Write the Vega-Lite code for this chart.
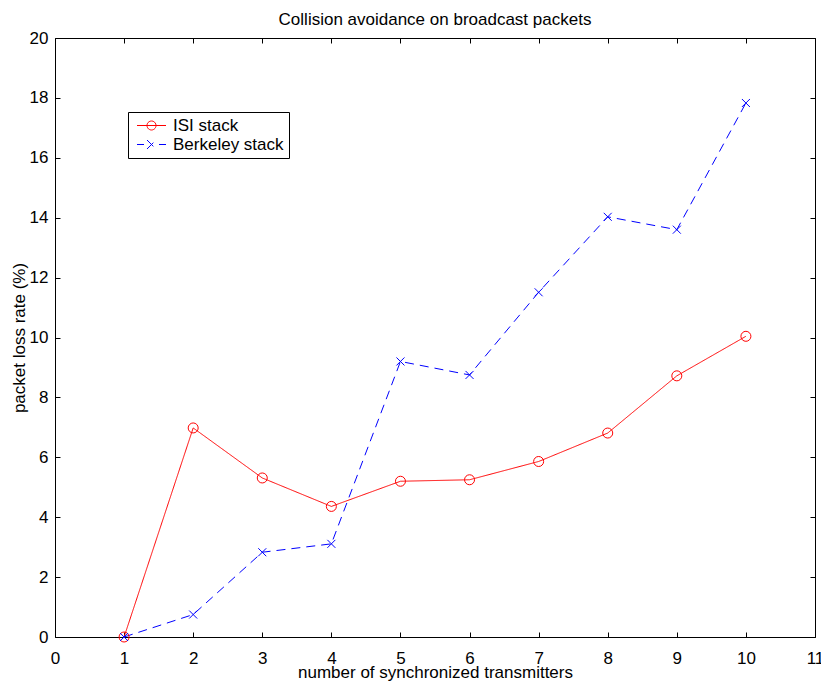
{
  "$schema": "https://vega.github.io/schema/vega-lite/v6.json",
  "width": 760,
  "height": 599,
  "autosize": {"type": "none"},
  "padding": {"left": 55, "top": 38, "right": 6, "bottom": 44},
  "background": "white",
  "title": {
    "text": "Collision avoidance on broadcast packets",
    "font": "Liberation Sans",
    "fontSize": 17,
    "fontWeight": "normal",
    "color": "black",
    "baseline": "alphabetic",
    "offset": -13,
    "anchor": "middle"
  },
  "config": {
    "view": {"stroke": null},
    "axis": {
      "grid": false,
      "domainColor": "black",
      "domainWidth": 1,
      "tickColor": "black",
      "tickWidth": 1,
      "tickSize": -5,
      "labelColor": "black",
      "labelFont": "Liberation Sans",
      "labelFontSize": 17,
      "titleFont": "Liberation Sans",
      "titleFontSize": 17,
      "titleFontWeight": "normal",
      "titleColor": "black"
    }
  },
  "data": {
    "values": [
      {"series": "ISI stack", "n": 1, "loss": 0},
      {"series": "ISI stack", "n": 2, "loss": 6.98},
      {"series": "ISI stack", "n": 3, "loss": 5.31},
      {"series": "ISI stack", "n": 4, "loss": 4.36},
      {"series": "ISI stack", "n": 5, "loss": 5.2},
      {"series": "ISI stack", "n": 6, "loss": 5.25},
      {"series": "ISI stack", "n": 7, "loss": 5.86},
      {"series": "ISI stack", "n": 8, "loss": 6.81},
      {"series": "ISI stack", "n": 9, "loss": 8.72},
      {"series": "ISI stack", "n": 10, "loss": 10.04},
      {"series": "Berkeley stack", "n": 1, "loss": 0},
      {"series": "Berkeley stack", "n": 2, "loss": 0.75},
      {"series": "Berkeley stack", "n": 3, "loss": 2.83},
      {"series": "Berkeley stack", "n": 4, "loss": 3.11},
      {"series": "Berkeley stack", "n": 5, "loss": 9.2},
      {"series": "Berkeley stack", "n": 6, "loss": 8.75},
      {"series": "Berkeley stack", "n": 7, "loss": 11.51},
      {"series": "Berkeley stack", "n": 8, "loss": 14.03},
      {"series": "Berkeley stack", "n": 9, "loss": 13.6},
      {"series": "Berkeley stack", "n": 10, "loss": 17.83}
    ]
  },
  "layer": [
    {
      "mark": {"type": "line", "strokeWidth": 1},
      "encoding": {
        "x": {
          "field": "n", "type": "quantitative",
          "scale": {"domain": [0, 11], "nice": false, "zero": false},
          "axis": {
            "orient": "bottom",
            "values": [0, 1, 2, 3, 4, 5, 6, 7, 8, 9, 10, 11],
            "labelPadding": 18.5,
            "labelFlush": false,
            "title": "number of synchronized transmitters",
            "titleBaseline": "alphabetic",
            "titleY": 40,
            "titleX": 380,
            "titleAlign": "center"
          }
        },
        "y": {
          "field": "loss", "type": "quantitative",
          "scale": {"domain": [0, 20], "nice": false, "zero": false},
          "axis": {
            "orient": "left",
            "values": [0, 2, 4, 6, 8, 10, 12, 14, 16, 18, 20],
            "labelPadding": 12,
            "labelFlush": false,
            "title": "packet loss rate (%)",
            "titleAngle": 270,
            "titleBaseline": "alphabetic",
            "titleAlign": "center",
            "titleX": -30.5,
            "titleY": 299.5
          }
        },
        "color": {
          "field": "series", "type": "nominal",
          "scale": {"domain": ["ISI stack", "Berkeley stack"], "range": ["#ff0000", "#0000ff"]},
          "legend": {
            "title": null,
            "orient": "none",
            "legendX": 73,
            "legendY": 74,
            "strokeColor": "black",
            "fillColor": "white",
            "padding": 5,
            "rowPadding": 1,
            "labelFont": "Liberation Sans",
            "labelFontSize": 17,
            "labelColor": "black",
            "symbolSize": 100,
            "symbolOffset": 10,
            "labelOffset": 13,
            "symbolStrokeWidth": 1,
            "encode": {
              "symbols": {
                "update": {
                  "shape": [
                    {"test": "datum.value === 'ISI stack'", "value": "M-2.9,0L2.9,0M0.9,0A0.9,0.9,0,1,1,-0.9,0A0.9,0.9,0,1,1,0.9,0"},
                    {"value": "M-2.9,0L-1.5,0M1.5,0L2.9,0M-0.9,-0.9L0.9,0.9M-0.9,0.9L0.9,-0.9"}
                  ],
                  "fill": {"value": "transparent"}
                }
              }
            }
          }
        },
        "strokeDash": {
          "field": "series", "type": "nominal",
          "scale": {"domain": ["ISI stack", "Berkeley stack"], "range": [[1, 0], [9, 6]]},
          "legend": null
        }
      }
    },
    {
      "transform": [{"filter": {"field": "series", "equal": "ISI stack"}}],
      "mark": {"type": "point", "shape": "circle", "size": 100, "filled": false, "stroke": "#ff0000", "strokeWidth": 1, "opacity": 1},
      "encoding": {
        "x": {"field": "n", "type": "quantitative", "scale": {"domain": [0, 11], "nice": false, "zero": false}, "axis": null},
        "y": {"field": "loss", "type": "quantitative", "scale": {"domain": [0, 20], "nice": false, "zero": false}, "axis": null}
      }
    },
    {
      "transform": [{"filter": {"field": "series", "equal": "Berkeley stack"}}],
      "mark": {"type": "point", "shape": "M-1,-1L1,1M-1,1L1,-1", "size": 64, "filled": false, "stroke": "#0000ff", "strokeWidth": 1, "opacity": 1},
      "encoding": {
        "x": {
          "field": "n", "type": "quantitative",
          "scale": {"domain": [0, 11], "nice": false, "zero": false},
          "axis": {"orient": "top", "values": [0, 1, 2, 3, 4, 5, 6, 7, 8, 9, 10, 11], "labels": false, "title": null}
        },
        "y": {
          "field": "loss", "type": "quantitative",
          "scale": {"domain": [0, 20], "nice": false, "zero": false},
          "axis": {"orient": "right", "values": [0, 2, 4, 6, 8, 10, 12, 14, 16, 18, 20], "labels": false, "title": null}
        }
      }
    }
  ],
  "resolve": {"axis": {"x": "independent", "y": "independent"}}
}
